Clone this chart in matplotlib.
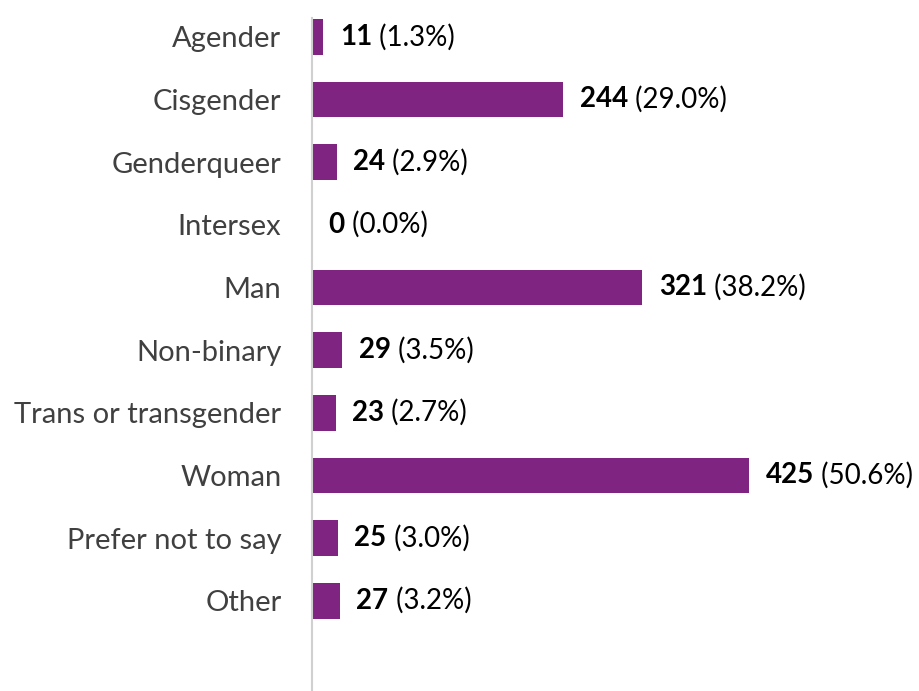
import matplotlib
matplotlib.use('Agg')
import matplotlib.pyplot as plt

categories = ['Agender', 'Cisgender', 'Genderqueer', 'Intersex', 'Man',
              'Non-binary', 'Trans or transgender', 'Woman',
              'Prefer not to say', 'Other']
counts = [11, 244, 24, 0, 321, 29, 23, 425, 25, 27]
percents = [1.3, 29.0, 2.9, 0.0, 38.2, 3.5, 2.7, 50.6, 3.0, 3.2]

plt.rcParams['font.family'] = ['Lato', 'DejaVu Sans']
bar_color = '#7F2480'

fig = plt.figure(figsize=(9.2, 6.91), dpi=100)
ax = fig.add_axes([312 / 920, 0, 1 - 312 / 920, 1 - 18 / 691])

pos = list(range(len(categories)))
ax.barh(pos, counts, height=0.57, color=bar_color)

ax.set_xlim(0, 591)
ax.set_ylim(10.44, -0.30)
ax.set_yticks(pos)
ax.set_yticklabels(categories, fontsize=21, color='#404040')
ax.tick_params(axis='y', length=0, pad=22)
ax.set_xticks([])

for side in ['top', 'right', 'bottom']:
    ax.spines[side].set_visible(False)
ax.spines['left'].set_color('#D0D0D0')
ax.spines['left'].set_linewidth(1.5)

# bold count, then the percentage in regular weight right after it
for p, c, pc in zip(pos, counts, percents):
    num = ax.annotate(str(c), xy=(c, p), xytext=(12, 0), textcoords='offset points',
                      va='center', ha='left', fontsize=20, fontweight='bold',
                      color='black')
    ax.annotate(' (%.1f%%)' % pc, xy=(1, 0.5), xycoords=num,
                va='center', ha='left', fontsize=20, color='black')

fig.savefig('out.png', dpi=100)
